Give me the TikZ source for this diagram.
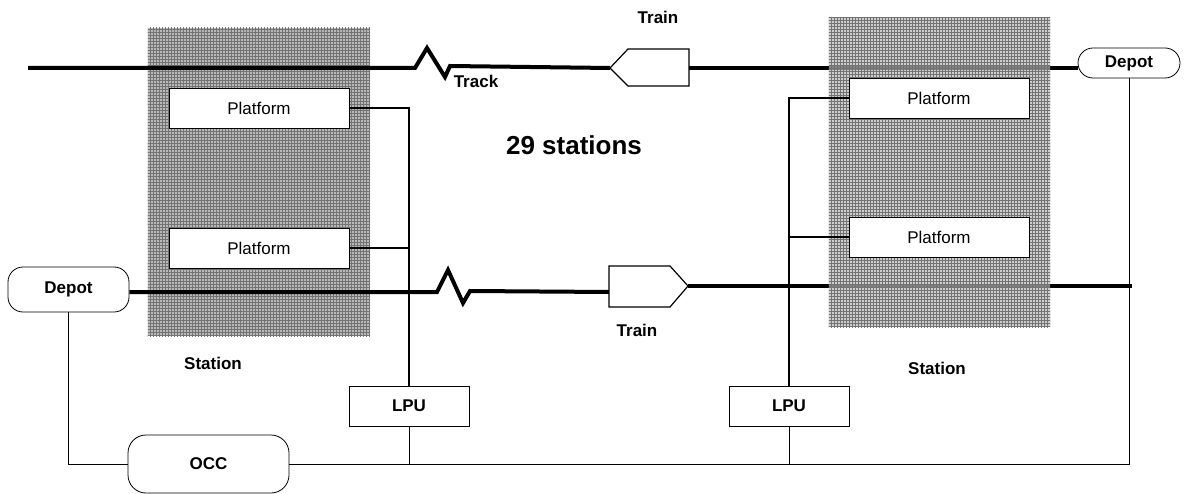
\documentclass[tikz,border=0pt]{standalone}
\usepackage{fontspec}
\setmainfont{Liberation Sans}
\usetikzlibrary{patterns}
\begin{document}
\begin{tikzpicture}[x=1pt,y=-1pt,
  lbl/.style={font=\fontsize{17}{20}\selectfont\bfseries, inner sep=0pt},
  stationbox/.style={draw=none, fill=gray!55, minimum width=222pt, minimum height=308pt, inner sep=0pt},
  platbox/.style={draw, fill=white, line width=0.8pt, minimum width=180pt, minimum height=40pt, inner sep=0pt, font=\fontsize{17}{20}\selectfont},
  lpubox/.style={draw, fill=white, line width=0.8pt, minimum width=120pt, minimum height=40pt, inner sep=0pt, font=\fontsize{17}{20}\selectfont\bfseries},
  pill/.style={draw, fill=white, line width=0.8pt, rounded corners=15pt, inner sep=0pt, font=\fontsize{17}{20}\selectfont\bfseries},
  track/.style={line width=4pt, line join=miter},
  trainshape/.style={draw, fill=white, line width=1.2pt},
  conthick/.style={line width=2pt},
  conthin/.style={line width=0.9pt}]
\useasboundingbox (0,0) rectangle (1185,494);

% left station (under track)
\node[stationbox] (stL) at (259,182) {};
\fill[pattern=grid, pattern color=black!55] (stL.south west) rectangle (stL.north east);

% top track
\coordinate (tA) at (28,68);
\coordinate (tz1) at (415,68);
\coordinate (tz2) at (427,48);
\coordinate (tz3) at (445,77);
\coordinate (tz4) at (450,66);
\coordinate (tT) at (610,68);
\draw[track] (tA) -- (tz1) -- (tz2) -- (tz3) -- (tz4) -- (tT);
\draw[trainshape] (610,68) -- (628,49) -- (689,49) -- (689,86) -- (628,86) -- cycle;
\coordinate (tB) at (689,68);

% bottom track
\coordinate (bz1) at (437,292);
\coordinate (bz2) at (448,270);
\coordinate (bz3) at (463,303);
\coordinate (bz4) at (470,291);
\coordinate (bT) at (609,292);
\coordinate (bC) at (688,286);
\coordinate (bE) at (1132,286);

% depots
\node[pill, minimum width=121pt, minimum height=45pt] (depL) at (68.5,289.5) {Depot};
\node[pill, minimum width=102pt, minimum height=30pt] (depR) at (1129,63) {Depot};

\draw[track] (tB) -- (depR.west |- tB);
\draw[track] (depL.east |- bz1) -- (bz1) -- (bz2) -- (bz3) -- (bz4) -- (bT);
\draw[trainshape] (609,266) -- (670,266) -- (688,286) -- (670,307) -- (609,307) -- cycle;
\draw[track] (bC) -- (bE);

% right station (over track)
\node[stationbox, minimum width=221pt, minimum height=309pt, fill opacity=0.7] (stR) at (939.5,172.5) {};
\fill[pattern=grid, pattern color=black!55] (stR.south west) rectangle (stR.north east);

% platforms
\node[platbox] (pL1) at (259,108) {Platform};
\node[platbox] (pL2) at (259,248) {Platform};
\node[platbox] (pR1) at (939,98) {Platform};
\node[platbox] (pR2) at (939,237) {Platform};

% LPUs and OCC
\node[lpubox] (lpuL) at (409,406) {LPU};
\node[lpubox] (lpuR) at (789,406) {LPU};
\node[pill, rounded corners=18pt, minimum width=161pt, minimum height=58pt] (occ) at (208.5,464) {OCC};

% connectors
\draw[conthick] (pL1.east) -| (lpuL.north);
\draw[conthick] (pL2.east) -- (lpuL.north |- pL2.east);
\draw[conthick] (pR1.west) -| (lpuR.north);
\draw[conthick] (pR2.west) -- (lpuR.north |- pR2.west);
\draw[conthin] (depL.south) |- (occ.west);
\draw[conthin] (occ.east) -| (depR.south);
\draw[conthin] (lpuL.south) -- (lpuL.south |- occ.east);
\draw[conthin] (lpuR.south) -- (lpuR.south |- occ.east);

% labels
\node[lbl] (lTrainTop) at (658,17) {Train};
\node[lbl] (lTrainBot) at (637,330) {Train};
\node[lbl] (lTrack) at (476,81) {Track};
\node[lbl] (lStL) at (213,363) {Station};
\node[lbl] (lStR) at (937,368) {Station};
\node[inner sep=0pt, font=\fontsize{26}{30}\selectfont\bfseries] (lCount) at (574,145) {29 stations};
\end{tikzpicture}
\end{document}
